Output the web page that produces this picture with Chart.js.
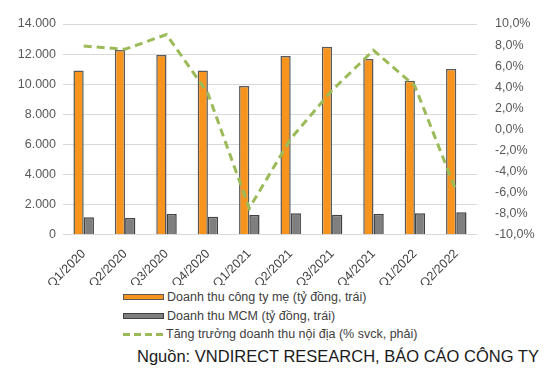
<!DOCTYPE html>
<html>
<head>
<meta charset="utf-8">
<script src="https://cdn.jsdelivr.net/npm/chart.js@4"></script>
<style>
  html, body { margin: 0; padding: 0; background: #fff; }
  body { width: 551px; height: 370px; position: relative; overflow: hidden; font-family: "Liberation Sans", Arial, sans-serif; }
  #wrap { position: absolute; left: 0; top: 0; width: 551px; height: 285px; }
  .legend { position: absolute; left: 123px; top: 288px; font-size: 12.5px; color: #404040; }
  .leg-row { display: flex; align-items: center; height: 18.5px; white-space: nowrap; }
  .leg-box { width: 39px; height: 4px; margin-right: 3px; }
  .leg-dash { width: 41px; height: 3px; margin-right: 2px;
    background: repeating-linear-gradient(90deg, #9bbb59 0 7px, transparent 7px 11px); }
  .source { position: absolute; left: 137px; top: 347px; font-size: 16.5px; color: #1a1a1a; white-space: nowrap; }
</style>
</head>
<body>
<div id="wrap"><canvas id="chart" width="551" height="285"></canvas></div>
<div class="legend">
  <div class="leg-row"><span class="leg-box" style="background:#f7941d;border:1px solid #595959"></span>Doanh thu công ty mẹ (tỷ đồng, trái)</div>
  <div class="leg-row"><span class="leg-box" style="background:#7f7f7f;border:1px solid #404040"></span>Doanh thu MCM (tỷ đồng, trái)</div>
  <div class="leg-row"><span class="leg-dash"></span>Tăng trưởng doanh thu nội địa (% svck, phải)</div>
</div>
<div class="source">Nguồn: VNDIRECT RESEARCH, BÁO CÁO CÔNG TY</div>
<script>
// ─── DATA ────────────────────────────────────────────────────────────────────
const quarters = ['Q1/2020', 'Q2/2020', 'Q3/2020', 'Q4/2020', 'Q1/2021', 'Q2/2021', 'Q3/2021', 'Q4/2021', 'Q1/2022', 'Q2/2022'];
const parentRevenue = [10900, 12270, 11930, 10900, 9870, 11870, 12490, 11670, 10230, 11000];
const mcmRevenue = [1150, 1100, 1360, 1180, 1300, 1410, 1320, 1360, 1410, 1480];
const domesticGrowth = [7.9, 7.6, 9.0, 3.4, -7.5, -0.9, 3.7, 7.5, 4.1, -5.9];
const leftTicks = [0, 2000, 4000, 6000, 8000, 10000, 12000, 14000];
const rightTicks = [-10, -8, -6, -4, -2, 0, 2, 4, 6, 8, 10];

// ─── CHART ───────────────────────────────────────────────────────────────────
const fontFamily = '"Liberation Sans", Arial, sans-serif';
const fmtThousands = v => v.toLocaleString('de-DE');
const fmtPct = v => v.toFixed(1).replace('.', ',') + '%';

new Chart(document.getElementById('chart'), {
  type: 'bar',
  data: {
    labels: quarters,
    datasets: [
      { label: 'Doanh thu công ty mẹ (tỷ đồng, trái)', data: parentRevenue, backgroundColor: '#f7941d', borderColor: '#595959', borderWidth: 1.5, yAxisID: 'y', order: 2 },
      { label: 'Doanh thu MCM (tỷ đồng, trái)', data: mcmRevenue, backgroundColor: '#7f7f7f', borderColor: '#404040', borderWidth: 1.5, yAxisID: 'y', order: 2 },
      { type: 'line', label: 'Tăng trưởng doanh thu nội địa (% svck, phải)', data: domesticGrowth, borderColor: '#9bbb59', borderWidth: 3, borderDash: [8, 5], pointRadius: 0, tension: 0, fill: false, yAxisID: 'y1', order: 1 }
    ]
  },
  options: {
    responsive: false,
    animation: false,
    layout: { padding: { top: 24, left: 0, right: 0, bottom: 0 } },
    datasets: { bar: { barPercentage: 1, categoryPercentage: 0.495 } },
    plugins: { legend: { display: false }, tooltip: { enabled: false } },
    scales: {
      x: {
        grid: { display: false },
        border: { display: false },
        ticks: { color: '#404040', font: { family: fontFamily, size: 12.5 }, minRotation: 45, maxRotation: 45, padding: 4 },
        afterFit: s => { s.height = 50.5; }
      },
      y: {
        position: 'left',
        min: 0, max: 14000,
        afterBuildTicks: s => { s.ticks = leftTicks.map(v => ({ value: v })); },
        grid: { color: '#d9d9d9', lineWidth: 1, drawTicks: false },
        border: { display: false },
        ticks: { color: '#595959', font: { family: fontFamily, size: 12.5 }, padding: 7, callback: fmtThousands },
        afterFit: s => { s.width = 63; }
      },
      y1: {
        position: 'right',
        min: -10, max: 10,
        afterBuildTicks: s => { s.ticks = rightTicks.map(v => ({ value: v })); },
        grid: { display: false },
        border: { display: false },
        ticks: { color: '#595959', font: { family: fontFamily, size: 12.5 }, padding: 10, callback: fmtPct },
        afterFit: s => { s.width = 74; }
      }
    }
  }
});
</script>
</body>
</html>
